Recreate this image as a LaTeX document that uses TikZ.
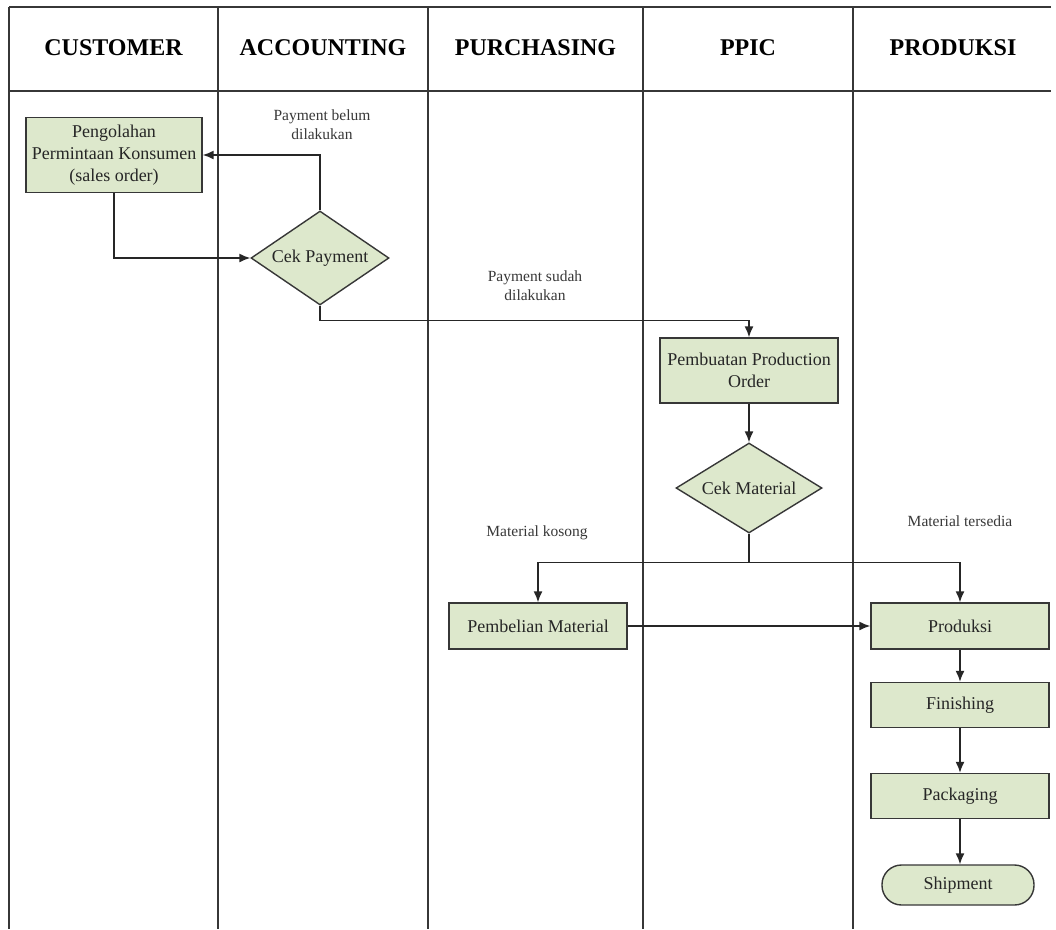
\documentclass[tikz,border=0pt]{standalone}
\usepackage{fontspec}
\setmainfont{Liberation Serif}
\usetikzlibrary{shapes.geometric,arrows.meta}
\definecolor{boxfill}{RGB}{221,232,204}
\definecolor{linegray}{RGB}{55,55,55}
\begin{document}
\begin{tikzpicture}[x=1pt,y=-1pt,
  lane/.style={draw=linegray,line width=2pt},
  procbox/.style={rectangle,draw=linegray,line width=1.4pt,fill=boxfill,align=center,
    font=\fontsize{18}{22}\selectfont,inner sep=0pt,text=black!85},
  decbox/.style={diamond,draw=linegray,line width=1.4pt,fill=boxfill,inner sep=0pt,
    font=\fontsize{18}{22}\selectfont,text=black!85},
  lbl/.style={align=center,font=\fontsize{15.5}{19}\selectfont,text=black!78},
  hdr/.style={font=\bfseries\fontsize{24}{28}\selectfont,text=black},
  arr/.style={draw=black!85,line width=1.5pt,-{Latex[length=11pt,width=9pt]}},
  conn/.style={draw=black!85,line width=1.5pt}]
\useasboundingbox (0,0) rectangle (1056,929);
\fill[white] (0,0) rectangle (1056,929);
% swimlane grid
\draw[lane] (9,7) -- (1051,7);
\draw[lane] (9,91) -- (1051,91);
\foreach \xx in {9,218,428,643,853} {\draw[lane] (\xx,7) -- (\xx,929);}
% headers
\node[hdr] (h1) at (113.5,48) {CUSTOMER};
\node[hdr] (h2) at (323,48) {ACCOUNTING};
\node[hdr] (h3) at (535.5,48) {PURCHASING};
\node[hdr] (h4) at (748,48) {PPIC};
\node[hdr] (h5) at (953,48) {PRODUKSI};
% nodes
\node[procbox,minimum width=176pt,minimum height=75pt] (so) at (114,155)
  {Pengolahan\\Permintaan Konsumen\\(sales order)};
\node[decbox,minimum width=138pt,minimum height=94pt] (cp) at (320,258)
  {\makebox[0pt]{Cek Payment}};
\node[procbox,minimum width=178pt,minimum height=65pt] (po) at (749,370.5)
  {Pembuatan Production\\Order};
\node[decbox,minimum width=146pt,minimum height=90pt] (cm) at (749,488)
  {\makebox[0pt]{Cek Material}};
\node[procbox,minimum width=178pt,minimum height=46pt] (pm) at (538,626)
  {Pembelian Material};
\node[procbox,minimum width=178pt,minimum height=46pt] (pr) at (960,626)
  {Produksi};
\node[procbox,minimum width=178pt,minimum height=45pt] (fi) at (960,705)
  {Finishing};
\node[procbox,minimum width=178pt,minimum height=45pt] (pk) at (960,796)
  {Packaging};
\node[procbox,rounded corners=19.5pt,minimum width=152pt,minimum height=40pt] (sh) at (958,885)
  {Shipment};
% labels
\node[lbl] (l1) at (322,125) {Payment belum\\dilakukan};
\node[lbl] (l2) at (535,286) {Payment sudah\\dilakukan};
\node[lbl] (l3) at (537,533) {Material kosong};
\node[lbl] (l4) at (960,521) {Material tersedia};
% connectors
\draw[arr] (cp.north) |- (so.east);
\draw[arr] (so.south) |- (cp.west);
\draw[arr] (cp.south) -- ++(0,15) coordinate (c1) -| (po.north);
\draw[arr] (po.south) -- (cm.north);
\draw[conn] (cm.south) -- ++(0,29) coordinate (split);
\draw[arr] (split) -| (pm.north);
\draw[arr] (split) -| (pr.north);
\draw[arr] (pm.east) -- (pr.west);
\draw[arr] (pr.south) -- (fi.north);
\draw[arr] (fi.south) -- (pk.north);
\draw[arr] (pk.south) -- (pk.south |- sh.north);
\end{tikzpicture}
\end{document}
